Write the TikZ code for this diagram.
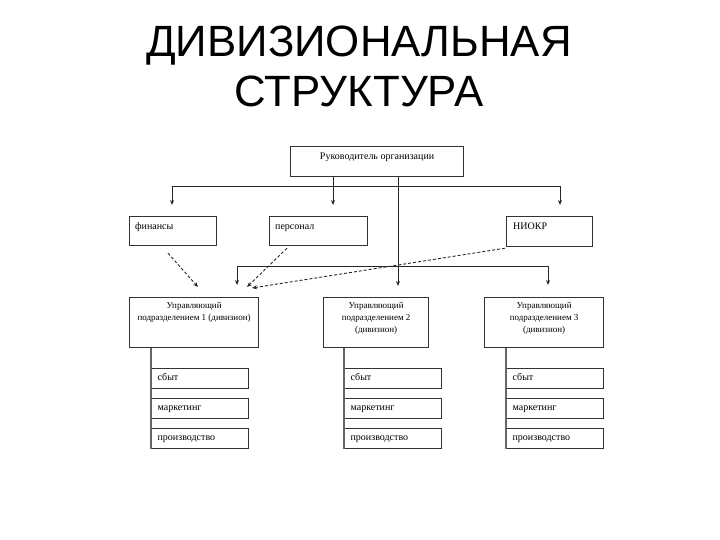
\documentclass[tikz,border=0pt]{standalone}
\usepackage{fontspec}
\setmainfont{Liberation Serif}
\newfontfamily\titlefont{Liberation Sans}
\usetikzlibrary{arrows.meta,calc}
\tikzset{
  box/.style={draw=black!80, line width=1.2pt, anchor=north west, inner sep=0pt},
  txt/.style={font=\fontsize{10}{12}\selectfont, inner sep=0pt, text height=7pt, text depth=2pt},
  txtm/.style={font=\fontsize{9}{12}\selectfont, inner sep=0pt, align=center},
  subbox/.style={box, minimum width=97pt, minimum height=19.5pt, text width=85pt, align=left, txt, inner xsep=6pt},
  conn/.style={draw=black!85, line width=0.9pt},
  arr/.style={conn, -{Stealth[length=5pt,width=4pt]}},
  dasharr/.style={conn, dash pattern=on 3pt off 2pt, -{Stealth[length=5pt,width=4pt]}},
  stem/.style={draw=black!60, line width=1.5pt},
  title/.style={font=\titlefont\fontsize{43.8}{50}\selectfont, anchor=base, inner sep=0pt}
}
\begin{document}
\begin{tikzpicture}[x=1pt,y=-1pt]
\useasboundingbox (0,0) rectangle (720,540);
% title
\node[title] (t1) at (359,57) {ДИВИЗИОНАЛЬНАЯ};
\node[title] (t2) at (359,107) {СТРУКТУРА};
% top
\node[box, minimum width=173pt, minimum height=30pt,
  label={[txt, anchor=north, yshift=-6pt]north:Руководитель организации}] (ruk) at (290,146) {};
\node[box, minimum width=87pt, minimum height=29pt,
  label={[txt, anchor=north west, yshift=-6pt, xshift=6pt]north west:финансы}] (fin) at (129,216) {};
\node[box, minimum width=98pt, minimum height=29pt,
  label={[txt, anchor=north west, yshift=-6pt, xshift=6pt]north west:персонал}] (pers) at (269,216) {};
\node[box, minimum width=86pt, minimum height=30pt,
  label={[txt, anchor=north west, yshift=-6pt, xshift=7pt]north west:НИОКР}] (niokr) at (506,216) {};
% divisions
\node[box, minimum width=129pt, minimum height=50pt,
  label={[txtm, anchor=north, yshift=-5.5pt]north:Управляющий\\подразделением 1 (дивизион)}] (u1) at (129,297) {};
\node[box, minimum width=105pt, minimum height=50pt,
  label={[txtm, anchor=north, yshift=-5pt]north:Управляющий\\подразделением 2\\(дивизион)}] (u2) at (323,297) {};
\node[box, minimum width=119pt, minimum height=50pt,
  label={[txtm, anchor=north, yshift=-5pt]north:Управляющий\\подразделением 3\\(дивизион)}] (u3) at (484,297) {};
% sub boxes
\node[subbox] (s1) at (151,368) {сбыт};
\node[subbox] (m1) at (151,398) {маркетинг};
\node[subbox] (p1) at (151,428) {производство};
\node[subbox] (s2) at (344,368) {сбыт};
\node[subbox] (m2) at (344,398) {маркетинг};
\node[subbox] (p2) at (344,428) {производство};
\node[subbox, minimum width=96pt] (s3) at (506,368) {сбыт};
\node[subbox, minimum width=96pt] (m3) at (506,398) {маркетинг};
\node[subbox, minimum width=96pt] (p3) at (506,428) {производство};
% stems
\draw[stem] ($(u1.south west)+(22,0)$) -- (p1.south west);
\draw[stem] ($(u2.south west)+(21,0)$) -- (p2.south west);
\draw[stem] ($(u3.south west)+(22,0)$) -- (p3.south west);
% bus 1
\coordinate (busL) at (172,186);
\coordinate (busA) at (333,186);
\coordinate (busR) at (560,186);
\draw[conn] (busA |- ruk.south) -- (busA);
\draw[conn] (busL) -- (busR);
\draw[arr, shorten >=11pt] (busL) -- (busL |- fin.north);
\draw[arr, shorten >=11pt] (busA) -- (busA |- pers.north);
\draw[arr, shorten >=11pt] (busR) -- (busR |- niokr.north);
% long vertical
\coordinate (vlong) at (398,176);
\draw[arr, shorten >=11pt] (vlong |- ruk.south) -- (vlong |- u2.north);
% bus 2
\coordinate (b2L) at (237,266);
\coordinate (b2R) at (548,266);
\draw[conn] (b2L) -- (b2R);
\draw[arr, shorten >=12pt] (b2L) -- (b2L |- u1.north);
\draw[arr, shorten >=12pt] (b2R) -- (b2R |- u3.north);
% dashed
\coordinate (d1) at (198,287);
\coordinate (d2) at (247,287);
\coordinate (d3) at (252,288);
\draw[dasharr] ($(fin.south west)+(39,7)$) -- (d1);
\draw[dasharr] ($(pers.south west)+(18,2)$) -- (d2);
\draw[dasharr] ($(niokr.south west)+(-1,1)$) -- (d3);
\end{tikzpicture}
\end{document}
